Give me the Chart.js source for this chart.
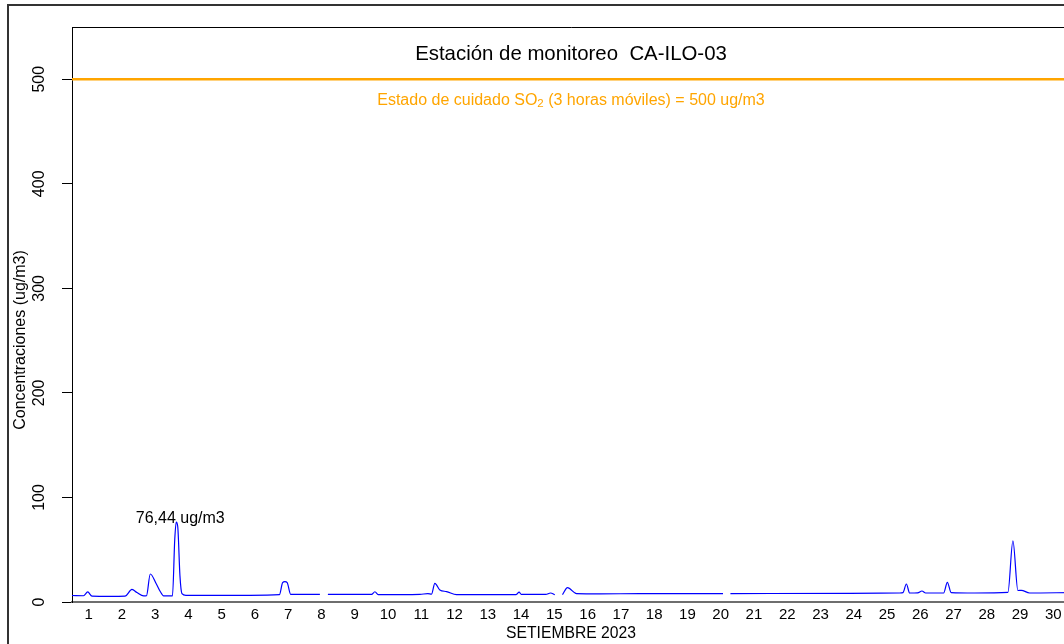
<!DOCTYPE html>
<html>
<head>
<meta charset="utf-8">
<script src="https://cdn.jsdelivr.net/npm/chart.js@4.4.0/dist/chart.umd.min.js"></script>
<style>
    html, body { margin: 0; padding: 0; background: #fff; overflow: hidden; }
    #wrap { position: absolute; left: 0; top: 0; width: 1090px; height: 644px; }
</style>
</head>
<body>
<div id="wrap"><canvas id="so2Chart"></canvas></div>
<script>

// x in days since 1 Sept 00:00, null = missing data
const dayLabels = ['1','2','3','4','5','6','7','8','9','10','11','12','13','14','15',
    '16','17','18','19','20','21','22','23','24','25','26','27','28','29','30'];
const yTicks = [0, 100, 200, 300, 400, 500];

const timeDays = [
    0, 0.346, 0.472, 0.601, 1.142, 1.593, 1.803, 1.953, 2.154, 2.239,
    2.353, 2.524, 2.653, 2.755, 3.020, 3.089, 3.134, 3.179, 3.245, 3.305,
    3.425, 5.349, 6.235, 6.331, 6.400, 6.469, 6.572, 7.452, 7.57, 7.692,
    9.005, 9.105, 9.204, 10.457, 10.697, 10.808, 10.907, 11.058, 11.259, 11.56,
    13.311, 13.371, 13.44, 13.506, 14.243, 14.384, 14.513, 14.63, 14.744, 14.895,
    15.165, 15.865, 17.067, 19.570, 19.68, 19.792, 23.377, 24.880, 24.979, 25.081,
    25.180, 25.421, 25.550, 25.661, 26.202, 26.313, 26.427, 27.133, 28.134, 28.284,
    28.434, 28.537, 28.786, 29.988
];
const so2Values = [
    6.2, 6.0, 9.6, 5.6, 5.4, 5.6, 12.0, 9.0, 5.8, 6.0,
    26.8, 18.0, 10.0, 5.8, 5.8, 60.0, 76.44, 72.0, 25.0, 8.0,
    6.4, 6.4, 7.0, 18.5, 19.4, 18.5, 7.3, 7.3, null, 7.3,
    7.3, 9.8, 7.0, 7.3, 8.0, 7.5, 17.9, 11.5, 10.0, 7.0,
    7.0, 7.5, 9.5, 7.3, 7.2, 8.6, 7.0, null, 7.0, 13.7,
    8.0, 7.8, 8.0, 8.0, null, 8.0, 8.3, 8.6, 9.0, 17.2,
    8.6, 8.8, 10.5, 8.6, 8.6, 18.8, 9.0, 8.6, 9.2, 58.6,
    11.0, 11.2, 8.6, 9.0
];

const limitValue = 500;
const peakDay = 3.134;
const peakValue = 76.44;

const fontFamily = '"Liberation Sans", Arial, Helvetica, sans-serif';
const orange = '#FFA500';

const textPlugin = {
    id: 'textPlugin',
    beforeDraw(chart) {
        const ctx = chart.ctx;
        ctx.save();
        ctx.fillStyle = '#fff';
        ctx.fillRect(0, 0, chart.width, chart.height);
        ctx.restore();
    },
    afterDraw(chart) {
        const { ctx, chartArea: a, scales: { x, y } } = chart;
        ctx.save();

        // outer frame
        ctx.strokeStyle = '#333';
        ctx.lineWidth = 2;
        ctx.strokeRect(8, 5, 3000, 3000);

        // top and right of plot box
        ctx.strokeStyle = '#000';
        ctx.lineWidth = 1;
        ctx.beginPath();
        ctx.moveTo(a.left, a.top + 0.5);
        ctx.lineTo(a.right + 0.5, a.top + 0.5);
        ctx.lineTo(a.right + 0.5, a.bottom);
        ctx.stroke();

        // main title
        ctx.fillStyle = '#000';
        ctx.textAlign = 'center';
        ctx.textBaseline = 'middle';
        ctx.font = '20.4px ' + fontFamily;
        ctx.fillText('Estación de monitoreo  CA-ILO-03', x.getPixelForValue(15), y.getPixelForValue(524));

        // limit label with subscript
        const big = '16px ' + fontFamily;
        const small = '11.5px ' + fontFamily;
        const p1 = 'Estado de cuidado SO';
        const p2 = '2';
        const p3 = ' (3 horas móviles) = ' + limitValue + ' ug/m3';
        ctx.font = big;
        const w1 = ctx.measureText(p1).width;
        const w3 = ctx.measureText(p3).width;
        ctx.font = small;
        const w2 = ctx.measureText(p2).width;
        const cx = x.getPixelForValue(15);
        const cy = y.getPixelForValue(480);
        let sx = cx - (w1 + w2 + w3) / 2;
        ctx.fillStyle = orange;
        ctx.textAlign = 'left';
        ctx.font = big;
        ctx.fillText(p1, sx, cy);
        ctx.font = small;
        ctx.fillText(p2, sx + w1, cy + 4);
        ctx.font = big;
        ctx.fillText(p3, sx + w1 + w2, cy);

        // peak label
        ctx.fillStyle = '#000';
        ctx.textAlign = 'center';
        ctx.font = '16px ' + fontFamily;
        ctx.fillText(peakValue.toFixed(2).replace('.', ',') + ' ug/m3',
            x.getPixelForValue(peakDay) + 4, y.getPixelForValue(peakValue) - 3);

        // y axis title
        ctx.translate(21, 340);
        ctx.rotate(-Math.PI / 2);
        ctx.fillText('Concentraciones (ug/m3)', 0, 0);

        ctx.restore();
    }
};

const ctx = document.getElementById('so2Chart');

new Chart(ctx, {
    type: 'line',
    data: {
        datasets: [
            {
                label: 'Limite',
                data: [{ x: 0, y: limitValue }, { x: 30, y: limitValue }],
                borderColor: orange,
                borderWidth: 2.5,
                pointRadius: 0
            },
            {
                label: 'SO2',
                data: timeDays.map((d, i) => ({ x: d, y: so2Values[i] })),
                borderColor: '#0000FF',
                borderWidth: 1.2,
                pointRadius: 0,
                spanGaps: false,
                cubicInterpolationMode: 'monotone'
            }
        ]
    },
    options: {
        responsive: true,
        maintainAspectRatio: false,
        animation: false,
        layout: { padding: { left: 0, top: 27, right: 20, bottom: 0 } },
        plugins: {
            legend: { display: false },
            tooltip: { enabled: false }
        },
        scales: {
            x: {
                type: 'linear',
                min: 0,
                max: 30,
                afterBuildTicks: s => { s.ticks = dayLabels.map((_, i) => ({ value: i + 0.5 })); },
                afterFit: s => { s.height = 42; },
                ticks: {
                    autoSkip: false,
                    maxRotation: 0,
                    minRotation: 0,
                    padding: 4,
                    color: '#000',
                    font: { size: 15, family: fontFamily },
                    callback: (v, i) => dayLabels[i]
                },
                grid: { display: false, drawTicks: false },
                border: { display: true, color: '#6e6e6e', width: 2 },
                title: {
                    display: true,
                    text: 'SETIEMBRE 2023',
                    color: '#000',
                    font: { size: 15.7, family: fontFamily },
                    padding: { top: 0, bottom: 1 }
                }
            },
            y: {
                min: 0,
                max: 550,
                afterBuildTicks: s => { s.ticks = yTicks.map(v => ({ value: v })); },
                afterFit: s => { s.width = 72; },
                ticks: {
                    minRotation: 90,
                    maxRotation: 90,
                    crossAlign: 'center',
                    padding: 9,
                    color: '#000',
                    font: { size: 16, family: fontFamily }
                },
                grid: { drawOnChartArea: false, drawTicks: true, tickLength: 10, color: '#000' },
                border: { display: true, color: '#000', width: 1 }
            }
        }
    },
    plugins: [textPlugin]
});
</script>
</body>
</html>
